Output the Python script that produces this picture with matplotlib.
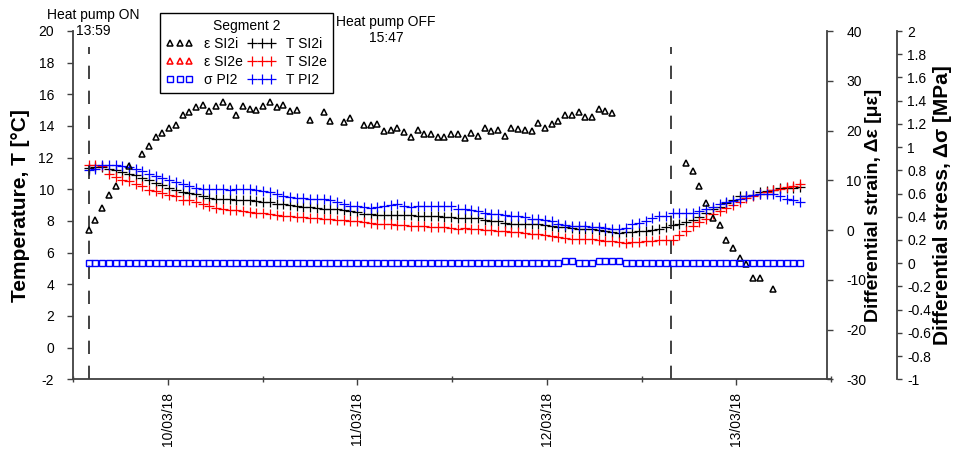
import numpy as np
import pandas as pd
import matplotlib
matplotlib.use("Agg")
import matplotlib.pyplot as plt
import matplotlib.dates as mdates
from matplotlib.lines import Line2D
from matplotlib.ticker import FuncFormatter, MultipleLocator

plt.rcParams["font.family"] = ["Liberation Sans", "DejaVu Sans"]
plt.rcParams["axes.unicode_minus"] = False

nan = np.nan

# DATA (one reading about every 51 minutes, from heat pump ON)
times = pd.date_range("2018-03-09 13:59", periods=107, freq="51min")
pump_on = pd.Timestamp("2018-03-09 13:59")
pump_off = pd.Timestamp("2018-03-12 15:47")

# differential strain SI2i [microstrain]
eps_si2i = [0.1, 2.1, 4.5, 7.1, 8.8, nan, 12.9, nan, 15.2, 16.9,
            18.7, 19.5, 20.5, 21.2, 23.2, 23.8, 24.8, 25.1, 23.9, 24.9,
            25.7, 24.9, 23.2, 24.9, 24.4, 24.2, 24.9, 25.7, 24.7, 25.2,
            23.9, 24.2, nan, 22.1, nan, 23.8, 22.0, nan, 21.8, 22.6,
            nan, 21.2, 21.2, 21.4, 19.9, 20.2, 20.6, 19.7, 18.7, 20.2,
            19.2, 19.3, 18.7, 18.6, 19.2, 19.2, 18.4, 19.4, 18.9, 20.6,
            19.9, 20.1, 18.9, 20.5, 20.4, 20.2, 19.9, 21.6, 20.6, 21.3,
            21.9, 23.1, 23.1, 23.8, 22.8, 22.8, 24.3, 23.9, 23.6, nan,
            nan, nan, nan, nan, nan, nan, nan, nan, nan, 13.5,
            11.9, 8.8, 5.5, 2.5, 1.0, -2.0, -3.7, -5.6, -6.9, -9.7,
            -9.7, nan, -11.9, nan, nan, nan, nan]

# differential stress PI2 [MPa]
sig_pi2 = [0.0] * 71 + [0.015, 0.015, 0.0, 0.0, 0.0, 0.015, 0.015, 0.015, 0.015] + [0.0] * 27

# temperatures [C]
t_si2i = [11.35, 11.41, 11.41, 11.31, 11.20, 11.10, 10.99, 10.88, 10.74, 10.57,
          10.40, 10.25, 10.10, 9.98, 9.83, 9.77, 9.68, 9.58, 9.47, 9.41,
          9.37, 9.37, 9.35, 9.30, 9.30, 9.26, 9.20, 9.20, 9.09, 9.09,
          8.99, 8.93, 8.88, 8.88, 8.84, 8.78, 8.78, 8.74, 8.67, 8.63,
          8.55, 8.46, 8.46, 8.40, 8.40, 8.40, 8.40, 8.36, 8.36, 8.29,
          8.29, 8.29, 8.29, 8.25, 8.25, 8.21, 8.21, 8.21, 8.21, 8.05,
          7.98, 7.98, 7.90, 7.83, 7.83, 7.83, 7.83, 7.80, 7.72, 7.70,
          7.65, 7.60, 7.56, 7.52, 7.50, 7.47, 7.45, 7.39, 7.33, 7.27,
          7.28, 7.30, 7.35, 7.38, 7.43, 7.50, 7.60, 7.72, 7.82, 7.92,
          8.06, 8.28, 8.53, 8.75, 8.90, 9.13, 9.34, 9.55, 9.60, 9.67,
          9.80, 9.88, 9.97, 10.06, 10.08, 10.08, 10.12]

t_si2e = [11.52, 11.55, 11.45, 10.99, 10.78, 10.61, 10.51, 10.32, 10.19, 9.98,
          9.89, 9.77, 9.66, 9.56, 9.35, 9.30, 9.20, 9.09, 8.93, 8.84,
          8.78, 8.71, 8.67, 8.63, 8.57, 8.53, 8.50, 8.42, 8.38, 8.34,
          8.29, 8.25, 8.25, 8.21, 8.21, 8.15, 8.13, 8.08, 8.04, 8.00,
          8.00, 7.91, 7.87, 7.83, 7.83, 7.79, 7.74, 7.72, 7.70, 7.70,
          7.66, 7.62, 7.60, 7.60, 7.56, 7.52, 7.54, 7.52, 7.50, 7.45,
          7.41, 7.38, 7.35, 7.32, 7.30, 7.25, 7.20, 7.15, 7.10, 7.05,
          7.00, 6.90, 6.85, 6.84, 6.84, 6.84, 6.80, 6.75, 6.71, 6.68,
          6.63, 6.67, 6.70, 6.72, 6.73, 6.80, 6.82, 6.82, 7.10, 7.38,
          7.68, 7.95, 8.15, 8.43, 8.64, 8.82, 9.00, 9.22, 9.43, 9.60,
          9.69, 9.82, 9.96, 10.03, 10.14, 10.24, 10.36]

t_pi2 = [11.20, 11.31, 11.52, 11.56, 11.52, 11.45, 11.41, 11.31, 11.14, 10.99,
         10.82, 10.74, 10.57, 10.46, 10.32, 10.19, 10.10, 10.00, 10.00, 10.00,
         10.00, 9.94, 10.04, 10.04, 10.00, 9.94, 9.89, 9.83, 9.73, 9.56,
         9.52, 9.47, 9.47, 9.41, 9.37, 9.37, 9.30, 9.20, 9.05, 8.93,
         8.93, 8.88, 8.84, 8.88, 8.93, 8.99, 9.05, 8.93, 8.88, 8.93,
         8.93, 8.93, 8.93, 8.93, 8.93, 8.78, 8.78, 8.71, 8.63, 8.50,
         8.46, 8.46, 8.40, 8.31, 8.31, 8.25, 8.15, 8.10, 8.04, 7.97,
         7.80, 7.75, 7.68, 7.68, 7.66, 7.62, 7.60, 7.58, 7.50, 7.47,
         7.58, 7.80, 7.85, 8.00, 8.17, 8.31, 8.31, 8.50, 8.53, 8.53,
         8.53, 8.65, 8.76, 8.86, 9.06, 9.18, 9.29, 9.40, 9.56, 9.62,
         9.68, 9.68, 9.68, 9.58, 9.38, 9.35, 9.20]

spine_col = "#404040"

# FIGURE
fig = plt.figure(figsize=(9.57, 4.58), dpi=100)
ax = fig.add_axes([73 / 957, 1 - 379.3 / 458, 758 / 957, 348.3 / 458])
ax_e = ax.twinx()
ax_s = ax.twinx()

# temperature crosses on left axis
ax.plot(times, t_si2i, ls="none", marker="+", color="black", ms=6.5, mew=0.9, label="T SI2i")
ax.plot(times, t_si2e, ls="none", marker="+", color="red", ms=6.5, mew=0.9, label="T SI2e")
ax.plot(times, t_pi2, ls="none", marker="+", color="blue", ms=6.5, mew=0.9, label="T PI2")

# strain triangles
ax_e.plot(times, eps_si2i, ls="none", marker="^", mfc="none", mec="black", ms=4.5, mew=1.1,
          label="ε SI2i")
ax_e.plot([], [], ls="none", marker="^", mfc="none", mec="red", ms=4.5, mew=1.1, label="ε SI2e")

# stress squares
ax_s.plot(times, sig_pi2, ls="none", marker="s", mfc="none", mec="blue", ms=5, mew=1,
          label="σ PI2")

# heat pump on / off
for t in [pump_on, pump_off]:
    ax.axvline(t, ymin=0, ymax=0.955, color="#222222", lw=1.2, ls=(0, (8, 7)))

# axes
ax.set_xlim(pd.Timestamp("2018-03-09 12:00"), pd.Timestamp("2018-03-13 12:00"))
ax.set_ylim(-2, 20)
ax_e.set_ylim(-30, 40)
ax_s.set_ylim(-1, 2)

ax.xaxis.set_major_locator(mdates.DayLocator())
ax.xaxis.set_major_formatter(mdates.DateFormatter("%d/%m/%y"))
ax.xaxis.set_minor_locator(mdates.HourLocator(byhour=[12]))
ax.yaxis.set_major_locator(MultipleLocator(2))
ax_e.yaxis.set_major_locator(MultipleLocator(10))
ax_s.yaxis.set_major_locator(MultipleLocator(0.2))


def stress_fmt(v, pos):
    s = f"{round(v, 1):g}"
    return "0" if s == "-0" else s


ax_s.yaxis.set_major_formatter(FuncFormatter(stress_fmt))

for a in [ax, ax_e, ax_s]:
    for sp in a.spines.values():
        sp.set_color(spine_col)
        sp.set_linewidth(1.3)
    a.spines["top"].set_visible(False)

ax.spines["right"].set_visible(False)
ax_e.spines["left"].set_visible(False)
ax_e.spines["bottom"].set_visible(False)
ax_s.spines["left"].set_visible(False)
ax_s.spines["bottom"].set_visible(False)
ax_e.spines["right"].set_position(("axes", 0.9943))
ax_s.spines["right"].set_position(("axes", 1.0867))

ax.tick_params(axis="y", direction="out", length=4.3, width=1, pad=9.4, labelsize=10,
               color=spine_col)
ax.tick_params(axis="x", which="major", direction="out", length=4.3, width=1, pad=4.8,
               labelsize=10, color=spine_col, labelrotation=90)
ax.tick_params(axis="x", which="minor", direction="inout", length=4, width=1, color=spine_col)
ax_e.tick_params(axis="y", direction="out", length=4.3, width=1, pad=9.9, labelsize=10,
                 color=spine_col)
ax_s.tick_params(axis="y", direction="out", length=3.6, width=1, pad=4, labelsize=10,
                 color=spine_col)

ax.set_ylabel("Temperature, T [°C]", fontsize=15, fontweight="bold")
ax.yaxis.set_label_coords(-0.057, 0.5)
ax_e.set_ylabel("Differential strain, Δε [με]", fontsize=14, fontweight="bold")
ax_e.yaxis.set_label_coords(1.0449, 0.5)
ax_s.set_ylabel("Differential stress, Δσ [MPa]", fontsize=15, fontweight="bold")
ax_s.yaxis.set_label_coords(1.134, 0.5)

# annotations
fig.text(93 / 957, 1 - 15 / 458, "Heat pump ON", ha="center", va="center", fontsize=10)
fig.text(93 / 957, 1 - 31 / 458, "13:59", ha="center", va="center", fontsize=10)
fig.text(386 / 957, 1 - 22 / 458, "Heat pump OFF", ha="center", va="center", fontsize=10)
fig.text(386 / 957, 1 - 38 / 458, "15:47", ha="center", va="center", fontsize=10)

# legend, strain/stress in the first column, temperatures in the second
h_e, l_e = ax_e.get_legend_handles_labels()
h_s, l_s = ax_s.get_legend_handles_labels()
h_t, l_t = ax.get_legend_handles_labels()
handles = h_e + h_s + h_t
labels = l_e + l_s + l_t
leg = fig.legend(handles, labels, ncol=2, loc="upper left",
                 bbox_to_anchor=(160 / 957, 1 - 12.7 / 458), fontsize=10,
                 title="Segment 2", title_fontsize=10, numpoints=3, handlelength=2.0,
                 handletextpad=0.75, columnspacing=0.35, labelspacing=0.3, borderpad=0.42,
                 borderaxespad=0, fancybox=False, framealpha=1, edgecolor="black")
leg.get_frame().set_linewidth(1)

# underline the legend title
fig.canvas.draw()
bb = leg.get_title().get_window_extent(fig.canvas.get_renderer())
bb = bb.transformed(fig.transFigure.inverted())
fig.add_artist(Line2D([bb.x0, bb.x1], [bb.y0 + 0.002, bb.y0 + 0.002], color="black", lw=0.8,
                      transform=fig.transFigure))

fig.savefig("out.png", dpi=100)
